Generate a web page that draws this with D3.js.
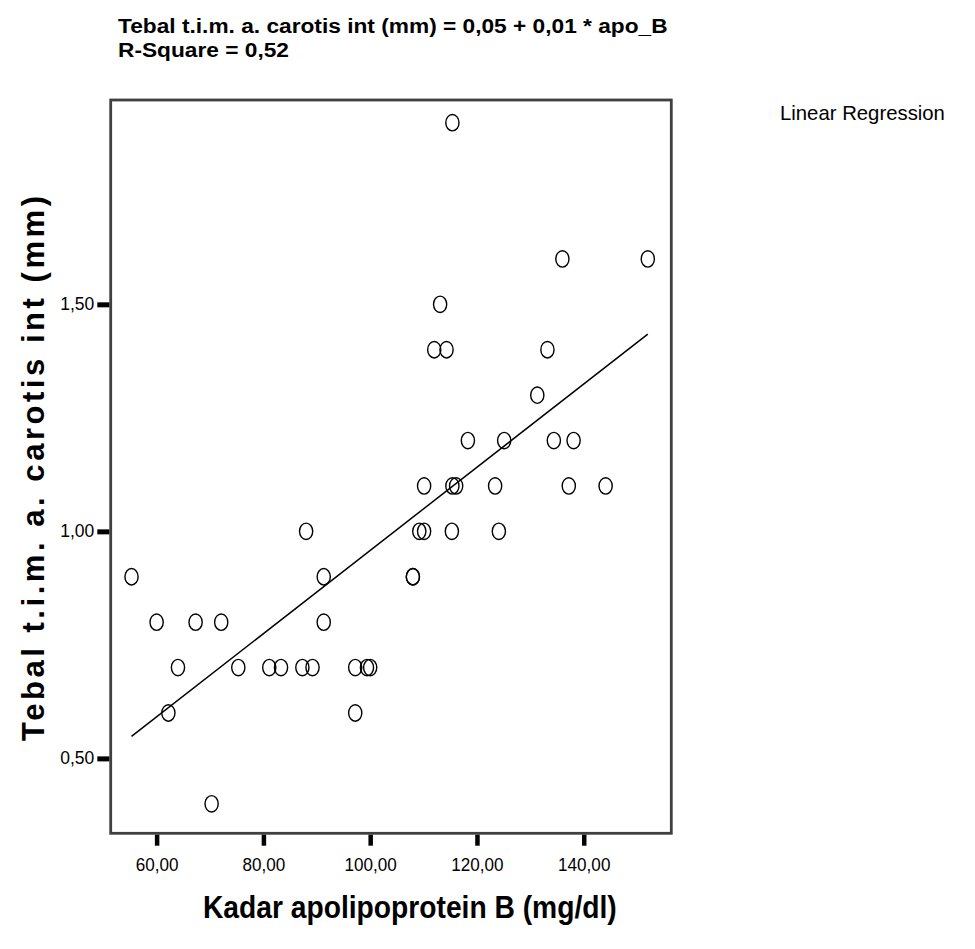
<!DOCTYPE html>
<html>
<head>
<meta charset="utf-8">
<script src="https://cdn.jsdelivr.net/npm/d3@7"></script>
<style>
  html, body { margin: 0; padding: 0; background: #fff; }
  svg { display: block; }
  text { font-family: "Liberation Sans", Arial, sans-serif; fill: #000; }
</style>
</head>
<body>
<svg id="chart" width="975" height="949"></svg>
<script>
// ---- data ----
const apoB = [55.3, 60.0, 62.2, 64.0, 67.3, 70.3, 72.1, 75.3, 81.1, 83.3, 87.3, 88.0, 89.2, 91.3, 91.3,
              97.2, 97.2, 99.4, 100.0, 108.0, 108.0, 109.2, 110.1, 110.1, 112.0, 113.1, 114.3, 115.3,
              115.4, 115.4, 116.1, 118.3, 123.4, 124.1, 125.1, 131.3, 133.2, 134.4, 136.0, 137.2,
              138.1, 144.1, 152.0];
const timCarotis = [0.9, 0.8, 0.6, 0.7, 0.8, 0.4, 0.8, 0.7, 0.7, 0.7, 0.7, 1.0, 0.7, 0.9, 0.8,
                    0.7, 0.6, 0.7, 0.7, 0.9, 0.9, 1.0, 1.0, 1.1, 1.4, 1.5, 1.4, 1.0,
                    1.1, 1.9, 1.1, 1.2, 1.1, 1.0, 1.2, 1.3, 1.4, 1.2, 1.6, 1.1,
                    1.2, 1.1, 1.6];
const fitIntercept = 0.042;
const fitSlope = 0.00916;
const xTicks = [60, 80, 100, 120, 140];
const yTicks = [0.5, 1.0, 1.5];
const titleLines = ["Tebal t.i.m. a. carotis int (mm) = 0,05 + 0,01 * apo_B", "R-Square = 0,52"];
const xTitle = "Kadar apolipoprotein B (mg/dl)";
const yTitle = "Tebal t.i.m. a. carotis int (mm)";
const legendLabel = "Linear Regression";

const points = apoB.map((x, i) => ({ x, y: timCarotis[i] }));
const fmt = v => d3.format(".2f")(v).replace(".", ",");

const svg = d3.select("#chart");
const L = 110.7, R = 671.3, T = 100, B = 833.3;

const x = d3.scaleLinear().domain([51.4, 156.4]).range([L, R]);
const y = d3.scaleLinear().domain([0.335, 1.95]).range([B, T]);

// frame
svg.append("rect")
  .attr("x", L).attr("y", T).attr("width", R - L).attr("height", B - T)
  .attr("fill", "none").attr("stroke", "#404040").attr("stroke-width", 2.8);

// x axis
const gx = svg.append("g").attr("transform", `translate(0,${B + 1.4})`)
  .call(d3.axisBottom(x).tickValues(xTicks).tickFormat(fmt).tickSize(11).tickPadding(13));
gx.select(".domain").remove();
gx.selectAll(".tick line").attr("stroke", "#000").attr("stroke-width", 4.5);
gx.selectAll(".tick text").style("font-size", "18px").attr("fill", "#1a1a1a")
  .attr("transform", "scale(0.95,1)");

// y axis
const gy = svg.append("g").attr("transform", `translate(${L - 1.4},0)`)
  .call(d3.axisLeft(y).tickValues(yTicks).tickFormat(fmt).tickSize(12).tickPadding(3));
gy.select(".domain").remove();
gy.selectAll(".tick line").attr("stroke", "#000").attr("stroke-width", 5);
gy.selectAll(".tick text").style("font-size", "17.5px").attr("fill", "#1a1a1a");

// regression line
const xr = d3.extent(apoB);
svg.append("line")
  .attr("x1", x(xr[0])).attr("y1", y(fitIntercept + fitSlope * xr[0]))
  .attr("x2", x(xr[1])).attr("y2", y(fitIntercept + fitSlope * xr[1]))
  .attr("stroke", "#000").attr("stroke-width", 1.5);

// points
svg.append("g").selectAll("ellipse").data(points).join("ellipse")
  .attr("cx", d => x(d.x)).attr("cy", d => y(d.y))
  .attr("rx", 6.6).attr("ry", 8.2)
  .attr("fill", "none").attr("stroke", "#000").attr("stroke-width", 1.4);

// helper: horizontally scale a text to a target width
function fitWidth(sel, x0, yb, target) {
  const w = sel.node().getComputedTextLength();
  const k = target / w;
  sel.attr("transform", `translate(${x0},${yb}) scale(${k},1)`);
  return k;
}

// title
const t1 = svg.append("text").text(titleLines[0]).style("font-size", "21px").style("font-weight", "bold");
const k = fitWidth(t1, 118, 33, 550);
svg.append("text").text(titleLines[1]).style("font-size", "21px").style("font-weight", "bold")
  .attr("transform", `translate(118,57) scale(${k},1)`);

// x title
const xt = svg.append("text").text(xTitle).style("font-size", "31px").style("font-weight", "bold");
fitWidth(xt, 203, 918, 414);

// y title
svg.append("text").text(yTitle)
  .attr("transform", "translate(44,741) rotate(-90)")
  .attr("textLength", 545).attr("lengthAdjust", "spacing")
  .style("font-size", "31px").style("font-weight", "bold");

// legend label
const lg = svg.append("text").text(legendLabel).style("font-size", "21px");
fitWidth(lg, 780, 120, 165);
</script>
</body>
</html>
